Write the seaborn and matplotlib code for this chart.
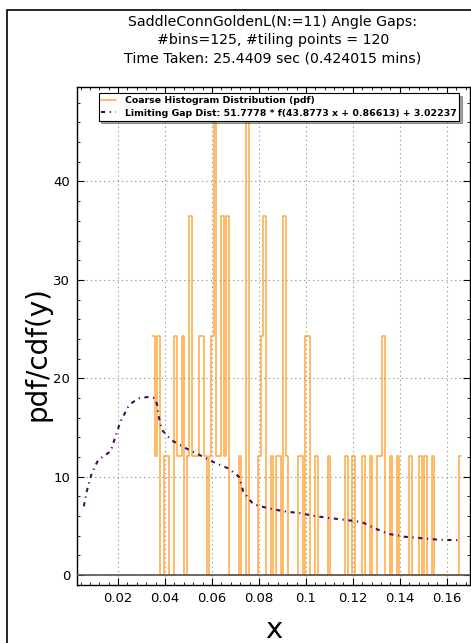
import numpy as np
import pandas as pd
import matplotlib
matplotlib.use("Agg")
import matplotlib.pyplot as plt
from matplotlib.patches import Rectangle
from matplotlib.ticker import MultipleLocator, FixedLocator, FixedFormatter
import seaborn as sns

# histogram: 125 bins over the gap range, counts per bin (each count = one pdf step)
hist_range = (0.0345, 0.1662)
n_bins = 125
pdf_per_count = 12.15
counts = [2, 1, 2, 0, 0, 1, 1, 0, 0, 2, 1, 1, 2, 0, 1, 3, 1, 1, 1, 2,
          2, 1, 0, 1, 2, 4, 1, 1, 3, 1, 3, 0, 0, 0, 0, 1, 0, 0, 4, 0,
          0, 0, 0, 1, 2, 3, 0, 0, 1, 0, 1, 1, 0, 3, 1, 0, 0, 0, 0, 1,
          1, 0, 2, 2, 0, 0, 1, 0, 0, 0, 0, 1, 0, 0, 0, 0, 0, 0, 1, 0,
          0, 1, 0, 0, 0, 1, 0, 0, 1, 0, 0, 1, 1, 2, 0, 0, 1, 0, 0, 1,
          0, 0, 0, 0, 1, 0, 0, 0, 1, 0, 1, 0, 0, 1, 0, 0, 0, 0, 0, 0,
          0, 0, 0, 0, 1]

# limiting gap distribution curve
curve_x = [0.0054, 0.0068, 0.0087, 0.0115, 0.0169, 0.0189, 0.0210, 0.0243, 0.0264,
           0.0292, 0.0328, 0.0356, 0.0368, 0.0371, 0.0385, 0.0428, 0.0484, 0.0548,
           0.0605, 0.0669, 0.0715, 0.0733, 0.0776, 0.0839, 0.0903, 0.0975, 0.1039,
           0.1102, 0.1174, 0.1238, 0.1294, 0.1351, 0.1422, 0.1493, 0.1564, 0.1657]
curve_y = [7.0, 8.65, 10.3, 11.7, 12.6, 14.1, 15.6, 17.1, 17.6,
           18.0, 18.1, 18.0, 17.2, 16.4, 14.8, 13.7, 12.95, 12.2,
           11.5, 10.85, 10.0, 8.5, 7.2, 6.8, 6.5, 6.3, 6.0,
           5.8, 5.6, 5.4, 4.75, 4.2, 3.9, 3.76, 3.6, 3.55]

x_ticks = [0.02, 0.04, 0.06, 0.08, 0.10, 0.12, 0.14, 0.16]
x_ticklabels = ["0.02", "0.04", "0.06", "0.08", "0.1", "0.12", "0.14", "0.16"]
y_ticks = [0, 10, 20, 30, 40]

title = ("SaddleConnGoldenL(N:=11) Angle Gaps:\n"
         "#bins=125, #tiling points = 120\n"
         "Time Taken: 25.4409 sec (0.424015 mins)")
hist_label = "Coarse Histogram Distribution (pdf)"
curve_label = "Limiting Gap Dist: 51.7778 * f(43.8773 x + 0.86613) + 3.02237"

sns.set_theme(style="white")
plt.rcParams["font.family"] = ["DejaVu Sans"]
plt.rcParams.update({"text.color": "black", "axes.labelcolor": "black",
                     "xtick.color": "black", "ytick.color": "black"})

fig = plt.figure(figsize=(4.71, 6.43), dpi=100)
ax = fig.add_axes([77 / 471, 58 / 643, 393 / 471, 498 / 643])

width = (hist_range[1] - hist_range[0]) / n_bins
hist_df = pd.DataFrame({"gap": hist_range[0] + width * (np.arange(n_bins) + 0.5),
                        "pdf": np.array(counts, dtype=float) * pdf_per_count})
curve_df = pd.DataFrame({"x": curve_x, "y": curve_y})

ax.axhline(0, color="#555555", lw=1.2, zorder=3)
sns.histplot(data=hist_df, x="gap", weights="pdf", bins=n_bins,
             binrange=hist_range, element="step", fill=False,
             color="#ff8c00", lw=1.1, alpha=0.75, ax=ax, label=hist_label)
sns.lineplot(data=curve_df, x="x", y="y", sort=False, color="#4a0a5a", lw=1.5,
             ax=ax, label=curve_label)
ax.lines[-1].set_dashes([2, 2.2, 0.6, 2.2])

ax.set_xlim(0.0025, 0.1699)
ax.set_ylim(-1.0, 49.6)
ax.xaxis.set_major_locator(FixedLocator(x_ticks))
ax.xaxis.set_major_formatter(FixedFormatter(x_ticklabels))
ax.xaxis.set_minor_locator(MultipleLocator(0.004))
ax.yaxis.set_major_locator(FixedLocator(y_ticks))
ax.yaxis.set_minor_locator(MultipleLocator(2))
ax.tick_params(which="both", direction="in", top=True, right=True,
               bottom=True, left=True, color="black")
ax.tick_params(which="major", length=5, width=0.8, labelsize=9.5, pad=5)
ax.tick_params(which="minor", length=2.5, width=0.6)
ax.grid(True, which="major", color="#888888", ls=(0, (1, 3)), lw=0.8)
for s in ax.spines.values():
    s.set_color("black")
    s.set_linewidth(1.0)

ax.set_xlabel("x", fontsize=21, labelpad=8)
ax.set_ylabel("pdf/cdf(y)", fontsize=20)
ax.yaxis.set_label_coords(-0.066, 0.465)

leg = ax.legend(loc="upper right", bbox_to_anchor=(0.985, 0.997), shadow=True,
                fancybox=False, framealpha=1, edgecolor="black",
                prop={"weight": "bold", "size": 6.75}, borderpad=0.3,
                labelspacing=0.4, handlelength=1.6, handletextpad=0.9)
leg.get_frame().set_linewidth(0.8)

fig.text(273 / 471, 1 - 15 / 643, title, ha="center", va="top", fontsize=10.2,
         linespacing=1.4)

fig.patches.append(Rectangle((7 / 471, -0.05), 1.2, (643 - 10) / 643 + 0.05,
                             transform=fig.transFigure, fill=False,
                             ec="black", lw=1.2))

fig.savefig("out.png", dpi=100)
